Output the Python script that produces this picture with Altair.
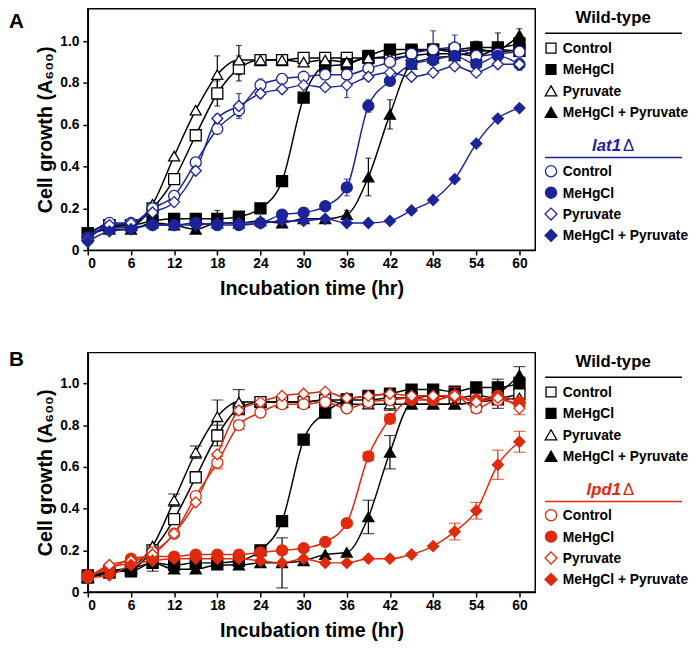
import altair as alt
import pandas as pd

TIME = [0, 3, 6, 9, 12, 15, 18, 21, 24, 27, 30, 33, 36, 39, 42, 45, 48, 51, 54, 57, 60]
CONDITIONS = ["Control", "MeHgCl", "Pyruvate", "MeHgCl + Pyruvate"]

# ---------------- Panel A : wild-type vs lat1Δ ----------------
A_WT_CONTROL = [0.08, 0.12, 0.12, 0.20, 0.34, 0.55, 0.75, 0.87, 0.91, 0.91, 0.92, 0.92, 0.92, 0.92, 0.93, 0.95, 0.96, 0.95, 0.96, 0.95, 0.96]
A_WT_MEHG = [0.08, 0.12, 0.12, 0.14, 0.15, 0.15, 0.15, 0.16, 0.20, 0.33, 0.73, 0.88, 0.89, 0.93, 0.96, 0.96, 0.96, 0.96, 0.97, 0.97, 0.99]
A_WT_PYR = [0.07, 0.11, 0.12, 0.22, 0.45, 0.67, 0.84, 0.91, 0.91, 0.91, 0.90, 0.91, 0.90, 0.92, 0.92, 0.93, 0.94, 0.94, 0.93, 0.96, 0.95]
A_WT_MEHG_PYR = [0.07, 0.10, 0.10, 0.13, 0.12, 0.10, 0.13, 0.13, 0.14, 0.13, 0.15, 0.15, 0.17, 0.35, 0.65, 0.89, 0.92, 0.93, 0.95, 0.96, 1.03]
A_MUT_CONTROL = [0.06, 0.13, 0.13, 0.20, 0.26, 0.42, 0.58, 0.67, 0.79, 0.82, 0.83, 0.84, 0.84, 0.87, 0.90, 0.94, 0.96, 0.97, 0.93, 0.94, 0.95]
A_MUT_MEHG = [0.06, 0.11, 0.11, 0.12, 0.12, 0.13, 0.12, 0.12, 0.13, 0.17, 0.18, 0.21, 0.30, 0.69, 0.81, 0.89, 0.91, 0.93, 0.89, 0.93, 0.89]
A_MUT_PYR = [0.05, 0.12, 0.13, 0.18, 0.23, 0.38, 0.63, 0.69, 0.75, 0.77, 0.79, 0.78, 0.79, 0.83, 0.85, 0.83, 0.85, 0.88, 0.85, 0.89, 0.89]
A_MUT_MEHG_PYR = [0.04, 0.09, 0.10, 0.12, 0.12, 0.12, 0.13, 0.13, 0.13, 0.14, 0.14, 0.15, 0.13, 0.13, 0.14, 0.19, 0.24, 0.34, 0.51, 0.63, 0.68]

A_WT_CONTROL_ERR = [0, 0, 0, 0, 0, 0, 0.06, 0.06, 0, 0, 0, 0.02, 0, 0, 0, 0, 0, 0, 0, 0, 0]
A_WT_MEHG_ERR = [0, 0, 0, 0, 0, 0, 0.04, 0, 0, 0, 0, 0, 0, 0.02, 0, 0.02, 0, 0, 0.03, 0, 0]
A_WT_PYR_ERR = [0, 0, 0, 0, 0, 0, 0.09, 0.07, 0, 0, 0, 0.03, 0.03, 0, 0, 0, 0, 0, 0, 0, 0]
A_WT_MEHG_PYR_ERR = [0, 0, 0, 0, 0, 0, 0, 0, 0, 0, 0, 0, 0.02, 0.09, 0.07, 0, 0, 0, 0, 0.08, 0.03]
A_MUT_CONTROL_ERR = [0, 0, 0, 0, 0, 0, 0, 0.03, 0.03, 0, 0, 0, 0, 0, 0, 0, 0.09, 0.06, 0, 0, 0]
A_MUT_MEHG_ERR = [0, 0, 0, 0, 0, 0, 0, 0, 0, 0.02, 0, 0, 0.04, 0.03, 0, 0, 0, 0, 0.03, 0, 0.03]
A_MUT_PYR_ERR = [0, 0, 0, 0, 0, 0, 0.02, 0.06, 0.02, 0, 0, 0, 0.06, 0, 0, 0, 0, 0, 0, 0, 0]
A_MUT_MEHG_PYR_ERR = [0] * 21

# ---------------- Panel B : wild-type vs lpd1Δ ----------------
B_WT_CONTROL = [0.07, 0.10, 0.11, 0.20, 0.35, 0.55, 0.75, 0.88, 0.91, 0.91, 0.91, 0.92, 0.92, 0.92, 0.93, 0.93, 0.94, 0.93, 0.94, 0.93, 0.95]
B_WT_MEHG = [0.08, 0.10, 0.10, 0.14, 0.13, 0.14, 0.14, 0.15, 0.20, 0.34, 0.73, 0.86, 0.92, 0.94, 0.95, 0.97, 0.97, 0.96, 0.98, 0.98, 1.00]
B_WT_PYR = [0.07, 0.10, 0.12, 0.22, 0.44, 0.67, 0.84, 0.91, 0.91, 0.91, 0.91, 0.92, 0.90, 0.90, 0.90, 0.90, 0.90, 0.90, 0.91, 0.92, 0.93]
B_WT_MEHG_PYR = [0.07, 0.09, 0.11, 0.14, 0.11, 0.11, 0.13, 0.13, 0.14, 0.14, 0.15, 0.18, 0.19, 0.36, 0.67, 0.90, 0.90, 0.90, 0.91, 0.95, 1.04]
B_MUT_CONTROL = [0.07, 0.12, 0.14, 0.19, 0.28, 0.46, 0.62, 0.80, 0.86, 0.90, 0.90, 0.91, 0.88, 0.91, 0.92, 0.93, 0.92, 0.94, 0.88, 0.92, 0.90]
B_MUT_MEHG = [0.08, 0.11, 0.16, 0.17, 0.17, 0.18, 0.18, 0.18, 0.19, 0.20, 0.21, 0.24, 0.33, 0.65, 0.83, 0.92, 0.92, 0.94, 0.92, 0.94, 0.91]
B_MUT_PYR = [0.07, 0.13, 0.15, 0.18, 0.28, 0.43, 0.66, 0.87, 0.91, 0.94, 0.95, 0.96, 0.93, 0.94, 0.95, 0.94, 0.94, 0.94, 0.91, 0.93, 0.88]
B_MUT_MEHG_PYR = [0.07, 0.08, 0.13, 0.15, 0.16, 0.16, 0.16, 0.16, 0.15, 0.14, 0.16, 0.14, 0.14, 0.16, 0.16, 0.18, 0.22, 0.29, 0.39, 0.61, 0.72]

B_WT_CONTROL_ERR = [0, 0, 0, 0.02, 0, 0.02, 0.05, 0.03, 0.02, 0, 0, 0, 0.03, 0, 0, 0, 0, 0, 0, 0.03, 0]
B_WT_MEHG_ERR = [0, 0, 0, 0, 0, 0, 0, 0, 0, 0.02, 0.02, 0.02, 0, 0, 0, 0, 0, 0, 0, 0, 0.03]
B_WT_PYR_ERR = [0, 0, 0, 0, 0.03, 0.03, 0.08, 0.06, 0, 0, 0, 0, 0, 0, 0.03, 0, 0, 0, 0, 0, 0]
B_WT_MEHG_PYR_ERR = [0, 0, 0, 0.04, 0, 0, 0, 0, 0, 0.12, 0, 0, 0, 0.08, 0.08, 0, 0, 0, 0, 0.07, 0.04]
B_MUT_CONTROL_ERR = [0, 0, 0, 0, 0, 0, 0.03, 0.02, 0, 0, 0, 0, 0, 0, 0, 0, 0, 0.04, 0.02, 0, 0]
B_MUT_MEHG_ERR = [0, 0, 0, 0, 0, 0, 0, 0, 0, 0, 0, 0, 0.01, 0.02, 0.02, 0, 0, 0, 0, 0, 0]
B_MUT_PYR_ERR = [0, 0, 0, 0, 0, 0, 0, 0, 0, 0, 0, 0, 0, 0, 0, 0, 0, 0, 0, 0, 0.03]
B_MUT_MEHG_PYR_ERR = [0, 0, 0, 0, 0, 0, 0, 0, 0, 0, 0, 0, 0, 0, 0, 0, 0, 0.04, 0.04, 0.07, 0.05]

SERIES_A = {
    "WT": [A_WT_CONTROL, A_WT_MEHG, A_WT_PYR, A_WT_MEHG_PYR],
    "MUT": [A_MUT_CONTROL, A_MUT_MEHG, A_MUT_PYR, A_MUT_MEHG_PYR],
}
ERRS_A = {
    "WT": [A_WT_CONTROL_ERR, A_WT_MEHG_ERR, A_WT_PYR_ERR, A_WT_MEHG_PYR_ERR],
    "MUT": [A_MUT_CONTROL_ERR, A_MUT_MEHG_ERR, A_MUT_PYR_ERR, A_MUT_MEHG_PYR_ERR],
}
SERIES_B = {
    "WT": [B_WT_CONTROL, B_WT_MEHG, B_WT_PYR, B_WT_MEHG_PYR],
    "MUT": [B_MUT_CONTROL, B_MUT_MEHG, B_MUT_PYR, B_MUT_MEHG_PYR],
}
ERRS_B = {
    "WT": [B_WT_CONTROL_ERR, B_WT_MEHG_ERR, B_WT_PYR_ERR, B_WT_MEHG_PYR_ERR],
    "MUT": [B_MUT_CONTROL_ERR, B_MUT_MEHG_ERR, B_MUT_PYR_ERR, B_MUT_MEHG_PYR_ERR],
}

BLUE = "#1b2498"
RED = "#df2a0c"
FONT = "Liberation Sans"

SHAPES = {"WT": ["square", "square", "triangle-up", "triangle-up"],
          "MUT": ["circle", "circle", "diamond", "diamond"]}
SIZES = {"square": 125, "circle": 160, "triangle-up": 175, "diamond": 185}
FILLED = [False, True, False, True]
X_TICKS = [0, 6, 12, 18, 24, 30, 36, 42, 48, 54, 60]
Y_TICKS = [0, 0.2, 0.4, 0.6, 0.8, 1.0]


def build_df(letter, series, errs):
    rows = []
    for grp in ["WT", "MUT"]:
        for ci, cond in enumerate(CONDITIONS):
            for t, v, e in zip(TIME, series[grp][ci], errs[grp][ci]):
                rows.append({"group": grp, "cond": cond, "sid": f"{letter}|{grp}|{cond}",
                             "time": t, "value": v, "err": e})
    return pd.DataFrame(rows)


def panel(letter, series, errs, mut_name, mut_color, height, ymax, cap, letter_y):
    df = build_df(letter, series, errs)
    sids = [f"{letter}|{g}|{c}" for g in ["WT", "MUT"] for c in CONDITIONS]
    colors = {"WT": "black", "MUT": mut_color}
    shape_range = [SHAPES[g][i] for g in ["WT", "MUT"] for i in range(4)]
    size_range = [SIZES[s] for s in shape_range]
    fill_range = [(colors[g] if FILLED[i] else "white") for g in ["WT", "MUT"] for i in range(4)]

    xscale = alt.Scale(domain=[0, 62.2], nice=False, zero=False)
    yscale = alt.Scale(domain=[0, ymax], nice=False, zero=False)
    xaxis = alt.Axis(values=X_TICKS, title="Incubation time (hr)", titlePadding=8, labelPadding=2)
    yaxis = alt.Axis(values=Y_TICKS, title="Cell growth (A\u2086\u2080\u2080)", titlePadding=4,
                     labelPadding=4,
                     labelExpr="datum.value == 0 ? '0' : format(datum.value, '.1f')")

    def X(field="time"):
        return alt.X(f"{field}:Q", scale=xscale, axis=xaxis)

    def Y(field):
        return alt.Y(f"{field}:Q", scale=yscale, axis=yaxis)

    layers = []
    for grp in ["WT", "MUT"]:
        col = colors[grp]
        base = alt.Chart(df).transform_filter(f"datum.group == '{grp}'")
        ebase = base.transform_filter("datum.err > 0").transform_calculate(
            lo="datum.value - datum.err", hi="datum.value + datum.err")
        layers.append(ebase.mark_rule(color=col, strokeWidth=1.2).encode(
            x=X(), y=Y("lo"), y2="hi:Q"))
        layers.append(ebase.mark_tick(color=col, thickness=1.2, size=cap, orient="horizontal").encode(
            x=X(), y=Y("hi")))
        layers.append(ebase.mark_tick(color=col, thickness=1.2, size=cap, orient="horizontal").encode(
            x=X(), y=Y("lo")))
        layers.append(base.mark_line(color=col, strokeWidth=1.5, interpolate="monotone").encode(
            x=X(), y=Y("value"), detail="sid:N"))
        layers.append(base.mark_point(opacity=1, strokeWidth=1.3).encode(
            x=X(), y=Y("value"),
            shape=alt.Shape("sid:N", scale=alt.Scale(domain=sids, range=shape_range), legend=None),
            size=alt.Size("sid:N", scale=alt.Scale(domain=sids, range=size_range), legend=None),
            fill=alt.Fill("sid:N", scale=alt.Scale(domain=sids, range=fill_range), legend=None),
            stroke=alt.value(col)))

    # panel letter
    one = pd.DataFrame({"t": [letter]})
    layers.append(alt.Chart(one).mark_text(align="left", baseline="top", fontSize=21,
                                           fontWeight="bold", font=FONT).encode(
        text="t:N", x=alt.value(-80), y=alt.value(letter_y)))

    # legend (layout in pixels relative to the plot area)
    sym_x, txt_x, rule_x0, rule_x1, center_x = 470, 482, 464, 603, 533
    blocks = [("WT", "Wild-type", 10, 25, 40), ("MUT", mut_name, 139, 151, 165)]
    for grp, title, ty, ry, r0 in blocks:
        col = colors[grp]
        if grp == "WT":
            layers.append(alt.Chart(pd.DataFrame({"t": [title]})).mark_text(
                align="center", baseline="middle", fontSize=17, fontWeight="bold", font=FONT,
                color="black").encode(text="t:N", x=alt.value(center_x), y=alt.value(ty)))
        else:
            layers.append(alt.Chart(pd.DataFrame({"t": [title]})).mark_text(
                align="right", baseline="middle", fontSize=17, fontWeight="bold", fontStyle="italic",
                font=FONT, color=col).encode(text="t:N", x=alt.value(center_x + 8), y=alt.value(ty)))
            layers.append(alt.Chart(pd.DataFrame({"t": ["\u0394"]})).mark_text(
                align="left", baseline="middle", fontSize=17, fontWeight="normal",
                font=FONT, color=col).encode(text="t:N", x=alt.value(center_x + 10), y=alt.value(ty)))
        layers.append(alt.Chart(one).mark_rule(color=col, strokeWidth=1.5).encode(
            x=alt.value(rule_x0), x2=alt.value(rule_x1), y=alt.value(ry)))
        for i, cond in enumerate(CONDITIONS):
            yy = r0 + i * 21.7
            shp = SHAPES[grp][i]
            layers.append(alt.Chart(one).mark_point(
                shape=shp, size=SIZES[shp] * 0.8, opacity=1, strokeWidth=1.3, stroke=col,
                fill=(col if FILLED[i] else "white")).encode(
                x=alt.value(sym_x), y=alt.value(yy)))
            layers.append(alt.Chart(pd.DataFrame({"t": [cond]})).mark_text(
                align="left", baseline="middle", fontSize=14, fontWeight="bold", font=FONT,
                color="black").encode(text="t:N", x=alt.value(txt_x), y=alt.value(yy + 1)))

    return alt.layer(*layers).properties(width=454, height=height)


pA = panel("A", SERIES_A, ERRS_A, "lat1", BLUE, 245, 1.156, 6, 3)
pB = panel("B", SERIES_B, ERRS_B, "lpd1", RED, 243, 1.147, 12, -3)

chart = alt.vconcat(pA, pB, spacing=50).resolve_scale(
    fill="independent", shape="independent", size="independent"
).properties(
    padding={"left": 0, "top": -5, "right": 0, "bottom": 0}, background="white"
).configure_view(
    stroke="black", strokeWidth=1.5
).configure_axis(
    grid=False, domainColor="black", domainWidth=1.5, tickColor="black", tickWidth=1.5,
    tickSize=5, labelFont=FONT, labelFontWeight="bold", labelFontSize=14, labelColor="black",
    titleFont=FONT, titleFontWeight="bold", titleFontSize=20, titleColor="black"
)

chart.save("out.html", embed_options={"renderer": "svg", "actions": False})
